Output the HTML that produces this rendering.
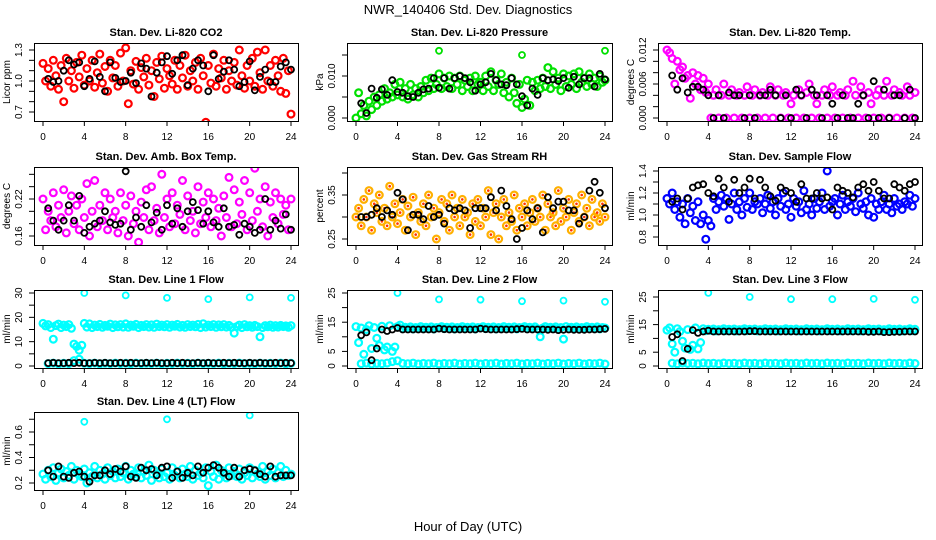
<!DOCTYPE html>
<html><head><meta charset="utf-8">
<style>
html,body{margin:0;padding:0;background:#fff;}
svg{display:block;font-family:"Liberation Sans",Arial,sans-serif;}
</style></head>
<body>
<svg id="chart" width="936" height="540" viewBox="0 0 936 540" xmlns="http://www.w3.org/2000/svg">
<rect width="936" height="540" fill="#fff"/>
<text x="468" y="14" text-anchor="middle" font-size="13">NWR_140406  Std. Dev. Diagnostics</text>
<text x="468" y="531" text-anchor="middle" font-size="13">Hour of Day (UTC)</text>
</svg>
<script>
const xTicks = [0,4,8,12,16,20,24];

const co2Red = [1.17,1.0,1.12,0.95,1.2,1.05,0.92,1.15,0.8,1.22,1.0,1.1,0.93,1.18,1.04,1.25,0.96,1.12,1.0,1.2,0.94,1.08,1.26,0.98,1.14,0.9,1.2,1.03,1.15,0.95,1.27,1.0,1.32,0.78,1.1,0.97,1.19,0.92,1.13,1.04,1.22,0.96,1.1,0.85,1.18,1.02,1.24,0.93,1.12,1.05,0.97,1.2,0.92,1.15,1.03,1.25,0.95,1.1,1.0,1.18,0.92,1.22,1.05,0.6,1.15,0.98,1.26,0.95,1.12,1.03,1.2,0.92,1.1,1.0,1.18,0.96,1.3,1.05,0.93,1.15,1.0,1.22,0.95,1.28,1.08,0.92,1.3,1.0,1.15,0.95,1.2,1.05,0.9,1.22,0.88,1.1,0.68];
const co2Black = [1.02,0.99,1.0,1.1,1.2,1.16,1.18,0.95,1.02,1.19,1.04,0.9,1.18,1.03,0.99,1.0,1.08,0.98,1.17,1.12,0.85,1.08,1.18,1.24,1.07,1.2,1.25,0.96,1.12,1.2,1.15,0.9,1.25,1.02,1.09,1.2,1.11,0.95,0.99,1.19,0.91,1.04,1.11,0.99,0.99,1.14,1.18,1.11];

const pressGreen = [0.000,0.006,0.001,0.003,0.0005,0.004,0.002,0.005,0.003,0.0055,0.004,0.007,0.0045,0.006,0.005,0.008,0.0055,0.0085,0.005,0.007,0.0045,0.008,0.0055,0.007,0.005,0.0075,0.006,0.009,0.0065,0.0095,0.007,0.008,0.0105,0.007,0.0095,0.0075,0.01,0.007,0.0095,0.008,0.01,0.0065,0.009,0.0075,0.0095,0.0065,0.01,0.008,0.0085,0.0065,0.01,0.0075,0.011,0.0065,0.009,0.008,0.0105,0.006,0.0085,0.005,0.0095,0.006,0.0035,0.008,0.0025,0.0045,0.009,0.003,0.0085,0.0065,0.009,0.007,0.0095,0.0075,0.012,0.007,0.011,0.008,0.0095,0.0065,0.0105,0.0075,0.01,0.008,0.0105,0.007,0.011,0.0085,0.0095,0.0075,0.0105,0.008,0.0095,0.0075,0.01,0.0085,0.009];
const pressBlack = [0.0035,0.0012,0.007,0.0048,0.0068,0.0055,0.009,0.0062,0.006,0.0052,0.005,0.006,0.0068,0.007,0.0095,0.0072,0.0095,0.007,0.0095,0.01,0.0095,0.0085,0.0065,0.008,0.0085,0.0105,0.009,0.008,0.0078,0.0095,0.008,0.0052,0.003,0.007,0.0055,0.0095,0.009,0.0092,0.0088,0.0095,0.0072,0.0098,0.008,0.0095,0.0095,0.0075,0.0105,0.0092];

const tempMagenta = [0.012,0.0115,0.0105,0.006,0.01,0.0085,0.009,0.007,0.0075,0.0035,0.008,0.006,0.0075,0.005,0.007,0.0045,0.006,0,0.004,0.005,0,0.004,0.006,0,0.004,0.005,0,0.004,0.0045,0,0.004,0.0055,0,0.004,0.005,0,0.004,0.0045,0,0.004,0.0055,0,0.004,0.005,0,0.004,0.0045,0,0.0025,0.004,0,0.005,0.004,0,0.0045,0.006,0,0.004,0.0025,0,0.004,0.005,0,0.004,0.0055,0,0.004,0.0045,0,0.004,0.005,0,0.0065,0.004,0,0.0055,0.004,0,0.0045,0.0025,0,0.004,0.005,0,0.004,0.0065,0,0.004,0.005,0,0.0045,0.004,0,0.0055,0.004,0,0.0045];
const tempBlack = [0.0075,0.005,0.007,0.0045,0.0055,0.0055,0.005,0.004,0,0.004,0,0.0045,0.004,0.004,0,0.004,0,0.004,0.004,0.005,0.004,0,0.004,0,0.005,0.004,0,0.005,0.004,0,0.004,0.0025,0,0.004,0,0,0.0025,0.004,0,0.0065,0,0.005,0,0.004,0.004,0,0.005,0];

const ambMagenta = [0.22,0.17,0.2,0.185,0.23,0.175,0.21,0.19,0.235,0.165,0.2,0.225,0.18,0.21,0.17,0.22,0.19,0.245,0.16,0.2,0.25,0.175,0.21,0.185,0.23,0.17,0.22,0.19,0.2,0.165,0.23,0.185,0.21,0.16,0.225,0.18,0.2,0.15,0.215,0.19,0.235,0.17,0.24,0.185,0.205,0.165,0.26,0.19,0.22,0.175,0.23,0.18,0.21,0.195,0.25,0.17,0.225,0.185,0.2,0.165,0.24,0.18,0.215,0.19,0.23,0.175,0.22,0.185,0.205,0.16,0.225,0.19,0.255,0.175,0.235,0.18,0.215,0.195,0.25,0.17,0.23,0.185,0.27,0.2,0.22,0.175,0.24,0.16,0.215,0.19,0.23,0.18,0.22,0.195,0.21,0.17,0.22];
const ambBlack = [0.205,0.185,0.17,0.185,0.21,0.185,0.225,0.165,0.175,0.18,0.185,0.2,0.182,0.178,0.18,0.265,0.17,0.19,0.175,0.21,0.182,0.198,0.17,0.21,0.18,0.205,0.175,0.2,0.215,0.202,0.18,0.2,0.182,0.175,0.205,0.175,0.178,0.162,0.18,0.175,0.165,0.17,0.22,0.17,0.185,0.172,0.195,0.17];

const rhOrange = [0.3,0.32,0.28,0.34,0.3,0.36,0.27,0.33,0.31,0.35,0.29,0.32,0.28,0.37,0.3,0.33,0.285,0.31,0.34,0.27,0.325,0.3,0.345,0.26,0.31,0.29,0.33,0.28,0.35,0.3,0.32,0.25,0.31,0.34,0.29,0.33,0.27,0.35,0.3,0.32,0.28,0.34,0.3,0.31,0.26,0.33,0.29,0.34,0.28,0.32,0.3,0.36,0.26,0.31,0.33,0.25,0.3,0.34,0.28,0.31,0.29,0.35,0.27,0.32,0.3,0.33,0.28,0.31,0.34,0.29,0.32,0.3,0.35,0.27,0.33,0.3,0.31,0.28,0.36,0.29,0.32,0.3,0.34,0.27,0.31,0.33,0.29,0.35,0.3,0.32,0.28,0.34,0.3,0.31,0.29,0.33,0.3];
const rhBlack = [0.3,0.3,0.305,0.32,0.3,0.315,0.305,0.355,0.34,0.27,0.305,0.305,0.295,0.325,0.3,0.305,0.285,0.32,0.315,0.32,0.315,0.275,0.32,0.32,0.32,0.345,0.315,0.36,0.325,0.295,0.25,0.275,0.315,0.295,0.32,0.265,0.345,0.32,0.335,0.335,0.315,0.315,0.285,0.3,0.36,0.38,0.355,0.32];

const flowBlue = [1.15,1.1,1.2,1.05,1.12,0.98,1.1,0.92,1.15,1.02,1.08,0.95,1.12,0.92,1.0,0.78,0.95,0.9,1.15,1.05,1.12,1.18,1.08,1.15,0.96,1.1,1.2,1.05,1.12,1.0,1.15,1.07,1.2,1.05,1.12,1.1,1.15,1.02,1.1,1.18,1.06,1.12,1.0,1.15,1.08,1.2,1.05,1.1,0.98,1.15,1.08,1.12,1.02,1.22,1.05,1.1,1.0,1.15,1.06,1.12,1.2,1.05,1.4,1.08,1.12,1.15,1.0,1.1,1.18,1.05,1.12,1.08,1.15,1.03,1.2,1.1,1.06,1.12,1.0,1.15,0.98,1.1,1.05,1.12,1.18,1.05,1.1,1.02,1.15,1.08,1.1,1.05,1.12,1.1,1.18,1.08,1.15];
const flowBlack = [1.12,1.15,1.05,1.15,1.25,1.27,1.28,1.2,1.17,1.33,1.25,1.12,1.32,1.2,1.25,1.33,1.15,1.32,1.25,1.17,1.13,1.25,1.22,1.2,1.12,1.28,1.15,1.15,1.2,1.15,1.16,1.05,1.25,1.22,1.2,1.16,1.25,1.28,1.22,1.3,1.22,1.15,1.15,1.28,1.25,1.22,1.28,1.3];

const line1High = [17.5,16.5,17,15.8,11,16.6,17.2,15.8,16.8,16.2,17,15.5,9,8,6.5,8.5,17.5,16,17.3,15.8,16.8,16.2,17.1,15.9,16.7,16.3,17.2,15.8,16.9,16.1,17,16,17.3,15.9,16.8,16.3,17.1,15.8,16.7,16.2,17,16,16.9,15.9,17.2,16.2,16.8,16.1,17,15.9,16.8,16.3,17.1,16,16.7,15.9,17,16.2,16.8,16.1,17.1,15.8,17.4,16,16.8,16.2,17,15.9,16.9,16.1,17,16,16.7,15.9,13.5,16.2,16.8,15.8,17,16.1,16.6,15.9,16.7,16.2,12,15.8,16.6,16.1,16.8,15.9,16.6,16,16.7,16.2,16.5,15.9,16.6];
const line1Low = [1,1.2,0.9,1.1,1,2.2,2.8,1.1,1,1.2,0.9,1.1,1,1.2,1,1.1,0.9,1.2,1,1.1,1,1.2,0.9,1.1,1,1.2,1,1.1,0.9,1.2,1,1.1,1,1.2,0.9,1.1,1,1.2,1,1.1,0.9,1.2,1,1.1,1,1.2,0.9,1.1];
const line1Black = [1.2,1.3,1.2,1.2,1.3,1.2,1.3,1.2,1.2,1.3,1.2,1.3,1.2,1.2,1.3,1.2,1.3,1.2,1.2,1.3,1.2,1.3,1.2,1.2,1.3,1.2,1.3,1.2,1.2,1.3,1.2,1.3,1.2,1.2,1.3,1.2,1.3,1.2,1.2,1.3,1.2,1.3,1.2,1.2,1.3,1.2,1.3,1.2];
const line1OutX = [4,8,12,16,20,24];
const line1OutY = [30,29,28,27.5,28.2,28];

const line2High = [13.5,8,13,4,12.5,13.8,6,13.2,9.5,7,13.6,5.5,6.5,13.8,5,6.5,13.5,14,12.8,13.3,12.9,13.4,12.7,13.2,13,13.5,12.8,13.3,12.9,13.4,12.7,13.2,13.1,13.5,12.8,13.3,12.9,13.4,12.7,13.2,13,13.5,12.8,13.3,12.9,13.4,12.7,13.2,13.1,13.5,12.8,13.3,12.9,13.4,12.7,13.2,13,13.5,12.8,13.3,12.9,13.4,12.7,13.2,13.1,13.5,12.8,13.3,12.9,13.4,12.7,10,13,13.5,12.8,13.3,12.9,13.4,12.7,13.2,9.2,13.5,12.8,13.3,12.9,13.4,12.7,13.2,13,13.5,12.8,13.3,12.9,13.4,12.7,13.2,13];
const line2Low = [0.8,1,0.7,0.9,0.8,1,1.5,1.8,0.9,0.8,1,0.7,0.9,0.8,1,0.7,0.9,0.8,1,0.7,0.9,0.8,1,0.7,0.9,0.8,1,0.7,0.9,0.8,1,0.7,0.9,0.8,1,0.7,0.9,0.8,1,0.7,0.9,0.8,1,0.7,0.9,0.8,1,0.7];
const line2Black = [10.5,11.5,2,6,12.5,12,12.5,13,12.5,12.5,12.5,12.5,12.5,12.5,12.5,12.8,12.6,12.5,12.5,12.5,12.5,12.5,12.5,12.8,12.6,12.5,12.5,12.5,12.5,12.5,12.6,12.7,12.5,12.5,12.5,12.5,12.4,12.5,12.3,12.4,12.5,12.4,12.4,12.4,12.5,12.5,12.6,12.7];
const line2OutX = [4,8,12,16,20,24];
const line2OutY = [25,22.8,22.7,22.2,22.4,22];

const line3High = [13,13.8,8,5,13.5,12.5,9,6.5,13.2,6,7.5,13.8,6.2,8.5,13.5,12.8,13.3,12.9,13.4,12.7,13.2,13,13.5,12.8,13.3,12.9,13.4,12.7,13.2,13.1,13.5,12.8,13.3,12.9,13.4,12.7,13.2,13,13.5,12.8,13.3,12.9,13.4,12.7,13.2,13.1,13.5,12.8,13.3,12.9,13.4,12.7,13.2,13,13.5,12.8,13.3,12.9,13.4,12.7,13.2,13.1,13.5,12.8,13.3,12.9,13.4,12.7,13.2,13,13.5,12.8,13.3,12.9,13.4,12.7,13.2,13.1,13.5,12.8,13.3,12.9,13.4,12.7,13.2,13,13.5,12.8,13.3,12.9,13.4,12.7,13.2,13.1,13.5,12.8,13.3];
const line3Low = [1,0.8,1.1,0.9,1,0.8,1.1,0.9,1,0.8,1.1,0.9,1,0.8,1.1,0.9,1,0.8,1.1,0.9,1,0.8,1.1,0.9,1,0.8,1.1,0.9,1,0.8,1.1,0.9,1,0.8,1.1,0.9,1,0.8,1.1,0.9,1,0.8,1.1,0.9,1,0.8,1.1,0.9];
const line3Black = [10.5,11.5,1.8,6.2,13,12,12.5,12.8,12.5,12.5,12.5,12.5,12.5,12.5,12.5,12.6,12.6,12.5,12.5,12.5,12.5,12.5,12.5,12.5,12.5,12.5,12.5,12.5,12.5,12.5,12.5,12.5,12.5,12.5,12.5,12.5,12.5,12.5,12.4,12.4,12.5,12.3,12.3,12.4,12.4,12.5,12.5,12.5];
const line3OutX = [4,8,12,16,20,24];
const line3OutY = [26.5,25,24.2,24.2,24.3,24];

const line4Cyan = [0.27,0.23,0.3,0.25,0.32,0.22,0.28,0.31,0.24,0.29,0.26,0.33,0.23,0.3,0.27,0.25,0.31,0.2,0.28,0.25,0.33,0.24,0.3,0.27,0.23,0.32,0.26,0.29,0.24,0.31,0.25,0.28,0.33,0.23,0.3,0.27,0.25,0.32,0.24,0.29,0.26,0.34,0.22,0.3,0.27,0.24,0.31,0.25,0.28,0.23,0.32,0.26,0.29,0.24,0.31,0.27,0.25,0.33,0.23,0.3,0.26,0.28,0.24,0.32,0.18,0.29,0.25,0.34,0.23,0.3,0.27,0.24,0.32,0.26,0.29,0.25,0.31,0.23,0.28,0.26,0.32,0.24,0.3,0.27,0.25,0.33,0.23,0.29,0.26,0.31,0.24,0.28,0.33,0.25,0.3,0.26,0.27];
const line4Black = [0.3,0.25,0.33,0.25,0.24,0.28,0.29,0.25,0.21,0.26,0.26,0.3,0.27,0.31,0.29,0.33,0.25,0.24,0.32,0.3,0.31,0.26,0.32,0.33,0.24,0.29,0.24,0.28,0.26,0.33,0.28,0.32,0.34,0.32,0.28,0.25,0.32,0.25,0.3,0.31,0.3,0.27,0.25,0.33,0.25,0.26,0.26,0.26];
const line4OutX = [4,12,20];
const line4OutY = [0.68,0.7,0.73];

const svg = document.getElementById('chart');
const NS = 'http://www.w3.org/2000/svg';
const colL = [34,347,658], colR = [298,612,922], rowTop = [43,167,290,412], boxH = 78;

function mk(tag, attrs, parent){
  const e = document.createElementNS(NS, tag);
  for (const k in attrs) e.setAttribute(k, attrs[k]);
  parent.appendChild(e);
  return e;
}
function uniformHours(n, i){ return i*24/(n-1); }
function halfHours(n, i){ return 0.5 + i*23.5/(n-1); }

const panels = [
 {key:'co2', title:'Stan. Dev. Li-820 CO2', ylab:'Licor ppm', c:0, r:0, vA:1.3, oA:7, vB:0.7, oB:69, ticks:[0.7,0.8,0.9,1.0,1.1,1.2,1.3], labels:[[0.7,'0.7'],[1.0,'1.0'],[1.3,'1.3']],
  series:[{vals:co2Red,col:'#ff0000',xs:uniformHours},{vals:co2Black,col:'#000',xs:halfHours}]},
 {key:'pressure', title:'Stan. Dev. Li-820 Pressure', ylab:'kPa', c:1, r:0, vA:0.010, oA:33, vB:0, oB:75, ticks:[0,0.005,0.01,0.015], labels:[[0,'0.000'],[0.01,'0.010']],
  series:[{vals:pressGreen,col:'#00e000',xs:uniformHours},{vals:pressBlack,col:'#000',xs:halfHours}], outX:[8,16,24], outY:[0.016,0.015,0.016], outCol:'#00e000'},
 {key:'temp', title:'Stan. Dev. Li-820 Temp.', ylab:'degrees C', c:2, r:0, vA:0.012, oA:7, vB:0, oB:75, ticks:[0,0.002,0.004,0.006,0.008,0.01,0.012], labels:[[0,'0.000'],[0.006,'0.006'],[0.012,'0.012']],
  series:[{vals:tempMagenta,col:'#ff00ff',xs:uniformHours},{vals:tempBlack,col:'#000',xs:halfHours}]},
 {key:'amb-temp', title:'Stan. Dev. Amb. Box Temp.', ylab:'degrees C', c:0, r:1, vA:0.22, oA:32, vB:0.16, oB:69, ticks:[0.16,0.18,0.2,0.22,0.24,0.26], labels:[[0.16,'0.16'],[0.22,'0.22']],
  series:[{vals:ambMagenta,col:'#ff00ff',xs:uniformHours},{vals:ambBlack,col:'#000',xs:halfHours}]},
 {key:'rh', title:'Stan. Dev. Gas Stream RH', ylab:'percent', c:1, r:1, vA:0.35, oA:28, vB:0.25, oB:72, ticks:[0.25,0.3,0.35,0.4], labels:[[0.25,'0.25'],[0.35,'0.35']],
  series:[{vals:rhOrange,col:'#ffb000',xs:uniformHours,inner:'#ff3000'},{vals:rhBlack,col:'#000',xs:halfHours}]},
 {key:'sample-flow', title:'Stan. Dev. Sample Flow', ylab:'ml/min', c:2, r:1, vA:1.4, oA:4, vB:0.8, oB:70, ticks:[0.8,0.9,1.0,1.1,1.2,1.3,1.4], labels:[[0.8,'0.8'],[1.0,'1.0'],[1.2,'1.2'],[1.4,'1.4']],
  series:[{vals:flowBlue,col:'#0000ff',xs:uniformHours},{vals:flowBlack,col:'#000',xs:halfHours}]},
 {key:'line1', title:'Stan. Dev. Line 1 Flow', ylab:'ml/min', c:0, r:2, vA:30, oA:3, vB:0, oB:76, ticks:[0,5,10,15,20,25,30], labels:[[0,'0'],[10,'10'],[20,'20'],[30,'30']],
  series:[{vals:line1High,col:'#00ffff',xs:uniformHours},{vals:line1Low,col:'#00ffff',xs:halfHours},{vals:line1Black,col:'#000',xs:halfHours}], outX:line1OutX, outY:line1OutY, outCol:'#00ffff'},
 {key:'line2', title:'Stan. Dev. Line 2 Flow', ylab:'ml/min', c:1, r:2, vA:25, oA:3, vB:0, oB:76, ticks:[0,5,10,15,20,25], labels:[[0,'0'],[5,'5'],[15,'15'],[25,'25']],
  series:[{vals:line2High,col:'#00ffff',xs:uniformHours},{vals:line2Low,col:'#00ffff',xs:halfHours},{vals:line2Black,col:'#000',xs:halfHours}], outX:line2OutX, outY:line2OutY, outCol:'#00ffff'},
 {key:'line3', title:'Stan. Dev. Line 3 Flow', ylab:'ml/min', c:2, r:2, vA:25, oA:7, vB:0, oB:76, ticks:[0,5,10,15,20,25], labels:[[0,'0'],[5,'5'],[15,'15'],[25,'25']],
  series:[{vals:line3High,col:'#00ffff',xs:uniformHours},{vals:line3Low,col:'#00ffff',xs:halfHours},{vals:line3Black,col:'#000',xs:halfHours}], outX:line3OutX, outY:line3OutY, outCol:'#00ffff'},
 {key:'line4', title:'Stan. Dev. Line 4 (LT) Flow', ylab:'ml/min', c:0, r:3, vA:0.6, oA:20, vB:0.2, oB:71, ticks:[0.2,0.3,0.4,0.5,0.6,0.7], labels:[[0.2,'0.2'],[0.4,'0.4'],[0.6,'0.6']],
  series:[{vals:line4Cyan,col:'#00ffff',xs:uniformHours},{vals:line4Black,col:'#000',xs:halfHours}], outX:line4OutX, outY:line4OutY, outCol:'#00ffff'}
];

panels.forEach(p => {
  const L = colL[p.c], R = colR[p.c], T = rowTop[p.r], B = T + boxH;
  const x0 = L + 9, x24 = R - 7;
  const xs = h => x0 + (x24 - x0) * h / 24;
  const ys = v => (T + p.oB) + (v - p.vB) * (p.oA - p.oB) / (p.vA - p.vB);
  const g = mk('g', {}, svg);
  
  

  const t = mk('text', {x:(L+R)/2, y:T-7, 'text-anchor':'middle', 'font-size':11, 'font-weight':'bold'}, g);
  
  
  t.textContent = p.title;

  const clip = mk('clipPath', {id:'clip-' + p.key}, g);
  mk('rect', {x:L, y:T, width:R-L, height:boxH}, clip);
  const pts = mk('g', {'clip-path':'url(#clip-' + p.key + ')'}, g);
  
  

  p.series.forEach((s, si) => {
    const isBlack = s.col === '#000';
    s.vals.forEach((v, i) => {
      const c = mk('circle', {cx:xs(s.xs(s.vals.length, i)).toFixed(1), cy:ys(v).toFixed(1), r:isBlack ? 3 : 3.4, fill:'none', stroke:s.col, 'stroke-width':isBlack ? 1.8 : 2.2}, pts);
      
      
      if (s.inner) {
        const d = mk('circle', {cx:xs(s.xs(s.vals.length, i)).toFixed(1), cy:ys(v).toFixed(1), r:1.3, fill:s.inner}, pts);
        
        
      }
    });
    if (si === 0 && p.outX) {
      p.outX.forEach((h, i) => {
        const c = mk('circle', {cx:xs(h).toFixed(1), cy:ys(p.outY[i]).toFixed(1), r:3, fill:'none', stroke:p.outCol, 'stroke-width':1.8}, pts);
        
        
      });
    }
  });

  const box = mk('rect', {x:L+0.5, y:T+0.5, width:R-L, height:boxH, fill:'none', stroke:'#000', 'stroke-width':1}, g);
  
  

  xTicks.forEach(h => {
    mk('line', {x1:xs(h), x2:xs(h), y1:B, y2:B+5, stroke:'#000'}, g);
    const tl = mk('text', {x:xs(h), y:B+19, 'text-anchor':'middle', 'font-size':10}, g);
    
    
    tl.textContent = h;
  });
  p.ticks.forEach(v => {
    mk('line', {x1:L-5, x2:L, y1:ys(v), y2:ys(v), stroke:'#000'}, g);
  });
  p.labels.forEach(([v, s]) => {
    const yl = mk('text', {x:0, y:0, 'text-anchor':'middle', 'font-size':10, transform:'translate(' + (L-12) + ',' + ys(v) + ') rotate(-90)'}, g);
    
    
    yl.textContent = s;
  });
  const yt = mk('text', {x:0, y:0, 'text-anchor':'middle', 'font-size':10, transform:'translate(' + (L-24) + ',' + (T+boxH/2) + ') rotate(-90)'}, g);
  
  
  yt.textContent = p.ylab;
});
</script>
</body></html>
